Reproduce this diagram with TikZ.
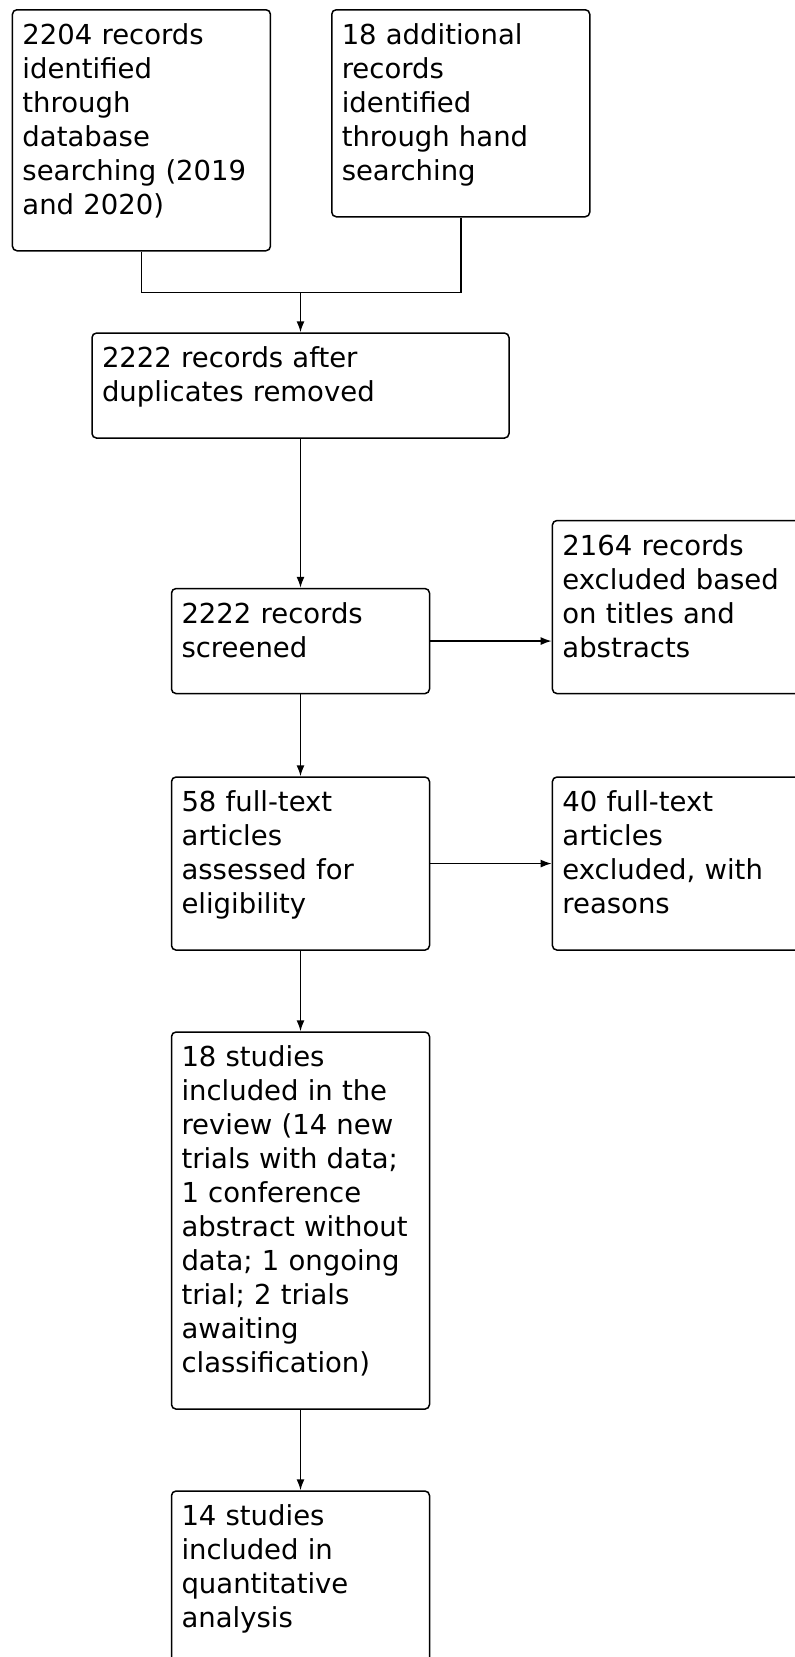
\documentclass[tikz,border=0pt]{standalone}
\usepackage{fontspec}
\setmainfont{DejaVu Sans}
\usetikzlibrary{positioning, arrows.meta}
\newcommand{\flowfont}{\fontsize{27.5pt}{34pt}\selectfont}
\newcommand{\boxend}{\par\rule{0pt}{0pt}}

\begin{document}
\begin{tikzpicture}[
    x=1pt, y=-1pt,
    box/.style={draw, rectangle, rounded corners=4.5pt, line width=1.5pt, text width=238pt, inner xsep=10pt, inner ysep=2.5pt, text height=32pt, align=left, font=\flowfont, execute at end node=\boxend},
    wide/.style={box, text width=397pt},
    arrow/.style={-{Latex[length=11pt,width=8pt]}, line width=1.5pt},
    link/.style={line width=1.5pt}
]
\useasboundingbox (0,0) rectangle (795,1657);
\clip (0,0) rectangle (795,1657);

% Identification (top)
\node[box, anchor=north west] (I1) at (11.7,9) {2204 records\\identified\\through\\database\\searching (2019\\and 2020)};
\node[box, anchor=north west] (I2) at (331,9) {18 additional\\records\\identified\\through hand\\searching};

% Screening
\node[wide, anchor=north] (S1) at (300.5,332.3) {2222 records after\\duplicates removed};
\node[box, below=149pt of S1] (S2) {2222 records\\screened};
\node[box, above right=0pt and 121.4pt of S2.south east] (X1) {2164 records\\excluded based\\on titles and\\abstracts};

% Eligibility
\node[box, below=82pt of S2] (E1) {58 full-text\\articles\\assessed for\\eligibility};
\node[box, above right=0pt and 121.4pt of E1.south east] (X2) {40 full-text\\articles\\excluded, with\\reasons};

% Included
\node[box, below=80.5pt of E1] (N1) {18 studies\\included in the\\review (14 new\\trials with data;\\1 conference\\abstract without\\data; 1 ongoing\\trial; 2 trials\\awaiting\\classification)};
\node[box, below=80.5pt of N1] (N2) {14 studies\\included in\\quantitative\\analysis};

% Edges
\coordinate[above=40pt of S1] (merge);
\draw[link] (I1.south) |- (merge) -| (I2.south);
\draw[arrow] (merge) -- (S1);

\draw[arrow] (S1) -- (S2);
\draw[arrow] (S2.east) -- (S2.east -| X1.west);

\draw[arrow] (S2) -- (E1);
\draw[arrow] (E1.east) -- (E1.east -| X2.west);

\draw[arrow] (E1) -- (N1);
\draw[arrow] (N1) -- (N2);

\end{tikzpicture}
\end{document}
